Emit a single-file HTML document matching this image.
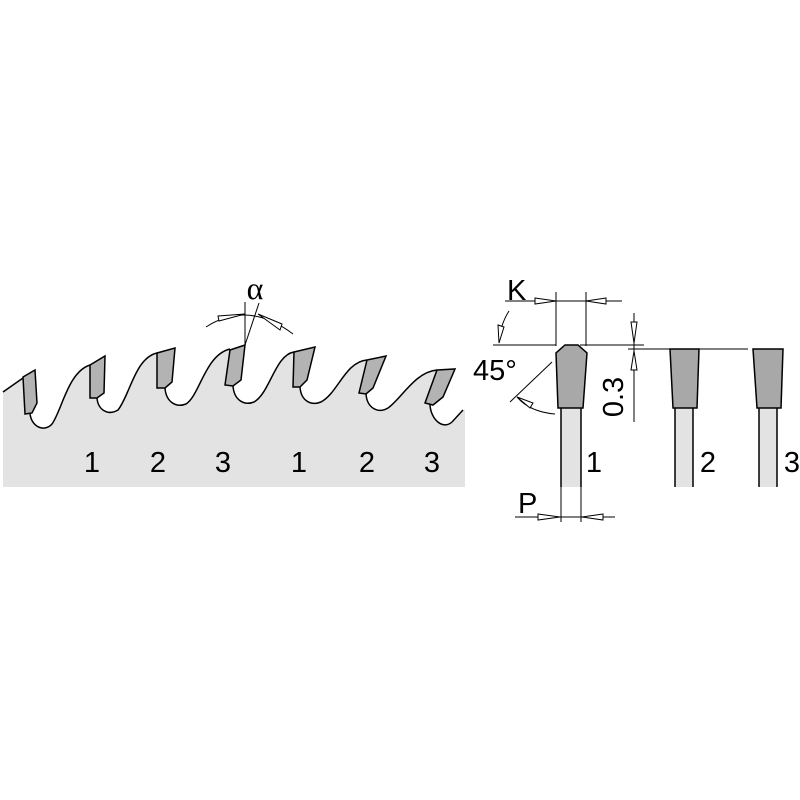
<!DOCTYPE html>
<html><head><meta charset="utf-8"><style>html,body{margin:0;padding:0;background:#fff}svg{display:block}</style></head><body>
<svg width="800" height="800" viewBox="0 0 800 800" xmlns="http://www.w3.org/2000/svg" font-family="Liberation Sans, sans-serif">
<rect width="800" height="800" fill="#fff"/>
<path d="M3,392 L23,378 L30,414 C32,428 45,432 52,424 C62,410 68,372 90,365 L97,398 C98,410 108,416 118,410 C130,395 135,358 157,353 L165,388 C166,402 176,408 186,404 C200,395 205,355 230,349 L233,386 C234,400 244,406 254,402 C270,393 275,355 294,352 L300,387 C301,401 311,406 321,402 C338,393 345,362 367,360 L366,394 C367,408 378,414 388,408 C402,398 415,372 437,370 L430,405 C431,420 443,430 452,422 L463,410 L465,410 L465,487 L3,487 Z" fill="#e3e3e3"/>
<path d="M3,392 L23,378 M30,414 C32,428 45,432 52,424 C62,410 68,372 90,365 M97,398 C98,410 108,416 118,410 C130,395 135,358 157,353 M165,388 C166,402 176,408 186,404 C200,395 205,355 230,349 M233,386 C234,400 244,406 254,402 C270,393 275,355 294,352 M300,387 C301,401 311,406 321,402 C338,393 345,362 367,360 M366,394 C367,408 378,414 388,408 C402,398 415,372 437,370 M430,405 C431,420 443,430 452,422 L463,410" fill="none" stroke="#000" stroke-width="1.5"/>
<g fill="#b3b3b3" stroke="#000" stroke-width="1.5">
<polygon points="23,377 35,370 37,403 32,413 25,414"/>
<polygon points="90,365 105,356 104,393 97,398 90,398"/>
<polygon points="157,353 175,348 172,382 165,388 157,388"/>
<polygon points="230,350 245,345 241,380 233,386 225,385"/>
<polygon points="294,352 315,347 307,380 300,387 293,387"/>
<polygon points="367,360 386,356 373,388 366,394 359,393"/>
<polygon points="437,370 455,369 443,397 433,405 425,403"/>
</g>
<g stroke="#000" stroke-width="1" fill="none">
<line x1="245" y1="302" x2="245" y2="345"/>
<line x1="259" y1="303" x2="245" y2="345"/>
<path d="M206,327 Q248,300 293,334"/>
<polygon points="218,316 245,314 219,321" fill="#fff"/>
<polygon points="282,324 258,314 280,330" fill="#fff"/>
</g>
<text x="255" y="299" font-family="Liberation Serif, serif" font-size="32" text-anchor="middle">α</text>
<g font-size="29" text-anchor="middle">
<text x="92" y="472">1</text><text x="158" y="472">2</text><text x="223" y="472">3</text>
<text x="299" y="472">1</text><text x="367" y="472">2</text><text x="432" y="472">3</text>
</g>
<g stroke="#000" stroke-width="1.5">
<rect x="561" y="408" width="20" height="79" fill="#e3e3e3" stroke="none"/>
<line x1="561" y1="408" x2="561" y2="487"/><line x1="581" y1="408" x2="581" y2="487"/>
<rect x="675" y="408" width="18" height="79" fill="#e3e3e3" stroke="none"/>
<line x1="675" y1="408" x2="675" y2="487"/><line x1="693" y1="408" x2="693" y2="487"/>
<rect x="759" y="408" width="18" height="79" fill="#e3e3e3" stroke="none"/>
<line x1="759" y1="408" x2="759" y2="487"/><line x1="777" y1="408" x2="777" y2="487"/>
<polygon points="565,345 578,345 587,353 583,408 558,408 556,353" fill="#a8a8a8"/>
<polygon points="670,349 699,349 697,408 673,408" fill="#a8a8a8"/>
<polygon points="753,349 783,349 781,408 757,408" fill="#a8a8a8"/>
</g>
<g stroke="#000" stroke-width="1" fill="none">
<line x1="505" y1="301" x2="622" y2="301"/>
<line x1="556" y1="292" x2="556" y2="346"/><line x1="586" y1="292" x2="586" y2="346"/>
<polygon points="535,298 556,301 535,304" fill="#fff"/>
<polygon points="606,298 586,301 606,304" fill="#fff"/>
<line x1="493" y1="345" x2="556" y2="345"/><line x1="580" y1="345" x2="644" y2="345"/>
<line x1="628" y1="349" x2="748" y2="349"/>
<line x1="634" y1="313" x2="634" y2="422"/>
<polygon points="631,322 634,343 637,322" fill="#fff"/>
<polygon points="631,370 634,351 637,370" fill="#fff"/>
<path d="M509,311 Q500,325 499,343"/>
<polygon points="498,325 499,343 504,327" fill="#fff"/>
<line x1="552" y1="362" x2="510" y2="402"/>
<path d="M517,397 Q530,412 555,414"/>
<polygon points="530,408 517,397 533,403" fill="#fff"/>
<line x1="515" y1="517" x2="615" y2="517"/>
<line x1="561" y1="487" x2="561" y2="522"/><line x1="581" y1="487" x2="581" y2="522"/>
<polygon points="538,514 560,517 538,520" fill="#fff"/>
<polygon points="603,514 582,517 603,520" fill="#fff"/>
</g>
<g font-size="29">
<text x="507" y="300">K</text>
<text x="473" y="380">45°</text>
<text x="518" y="513">P</text>
<text x="594" y="472" text-anchor="middle">1</text>
<text x="708" y="472" text-anchor="middle">2</text>
<text x="792" y="472" text-anchor="middle">3</text>
<text transform="translate(623,397) rotate(-90)" text-anchor="middle">0.3</text>
</g>
</svg>
</body></html>
